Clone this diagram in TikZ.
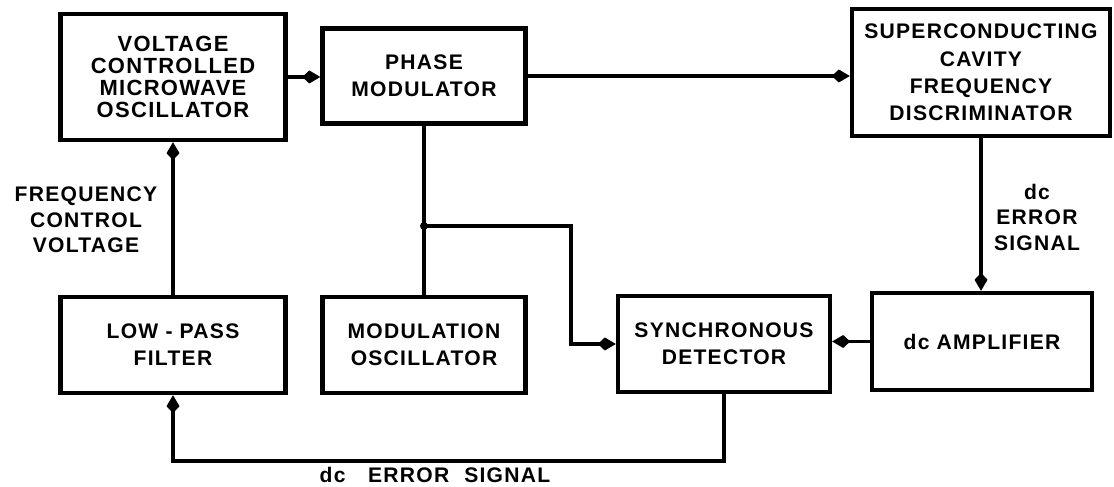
\documentclass[tikz,border=0pt]{standalone}
\usepackage{fontspec}
\newfontfamily\blockfont[LetterSpace=6]{Liberation Sans}
\usepackage{tikz}
\usetikzlibrary{arrows.meta, positioning, calc}

\begin{document}
\begin{tikzpicture}[
    block/.style={draw, line width=2.5pt, inner sep=2pt, align=center,
                  font=\blockfont\bfseries\fontsize{12}{15.5}\selectfont},
    tight/.style={font=\blockfont\bfseries\fontsize{12.5}{12.4}\selectfont},
    annot/.style={align=center, inner sep=0pt,
                  font=\blockfont\bfseries\fontsize{12}{14.5}\selectfont},
    arrow/.style={-{Kite[length=0.36cm, width=0.26cm, inset=0.14cm]},
                  line width=2pt},
    wire/.style={line width=2pt}
  ]
    \useasboundingbox (0,0) rectangle (22.28,-9.74);

    % Top row
    \node[block, tight, minimum width=4.5cm, minimum height=2.52cm]
      (vco) at (3.46,-1.54) {VOLTAGE\\CONTROLLED\\MICROWAVE\\OSCILLATOR};
    \node[block, minimum width=4.06cm, minimum height=1.9cm]
      (pm) at (8.48,-1.52) {PHASE\\MODULATOR};
    \node[block, minimum width=5.16cm, minimum height=2.54cm]
      (disc) at (19.62,-1.45) {SUPERCONDUCTING\\CAVITY\\FREQUENCY\\DISCRIMINATOR};

    % Bottom row
    \node[block, minimum width=4.5cm, minimum height=1.92cm]
      (lpf) at (3.46,-6.9) {LOW - PASS\\FILTER};
    \node[block, minimum width=4.06cm, minimum height=1.92cm]
      (mosc) at (8.48,-6.9) {MODULATION\\OSCILLATOR};
    \node[block, minimum width=4.24cm, minimum height=1.92cm]
      (sd) at (14.48,-6.88) {SYNCHRONOUS\\DETECTOR};
    \node[block, minimum width=4.4cm, minimum height=1.94cm]
      (amp) at (19.64,-6.83) {dc AMPLIFIER};

    % Signal labels
    \node[annot] (fcv) at (1.72,-4.4) {FREQUENCY\\CONTROL\\VOLTAGE};
    \node[annot] (err) at (20.74,-4.34) {dc\\ERROR\\SIGNAL};
    \node[annot] (dcerr) at (8.7,-9.5)
      {dc\hspace{0.45cm}ERROR\hspace{0.3cm}SIGNAL};

    % Forward path
    \draw[arrow] (vco.east) -- (vco.east -| pm.west);
    \draw[arrow] (pm.east) -- (pm.east -| disc.west);
    \draw[arrow] (disc.south) -- (disc.south |- amp.north);
    \draw[arrow] (amp.west) -- (amp.west -| sd.east);

    % Reference from modulation oscillator
    \coordinate (jn) at (8.48,-4.52);
    \coordinate (bend) at (11.42,-4.52);
    \draw[wire] (pm.south) -- (mosc.north);
    \fill (jn) circle (0.08);
    \draw[arrow] (jn) -- (bend) |- (sd.west);

    % Feedback loop
    \coordinate (fb) at (14.48,-9.22);
    \draw[arrow] (sd.south) -- (fb) -| (lpf.south);
    \draw[arrow] (lpf.north) -- (vco.south);
  \end{tikzpicture}
\end{document}
